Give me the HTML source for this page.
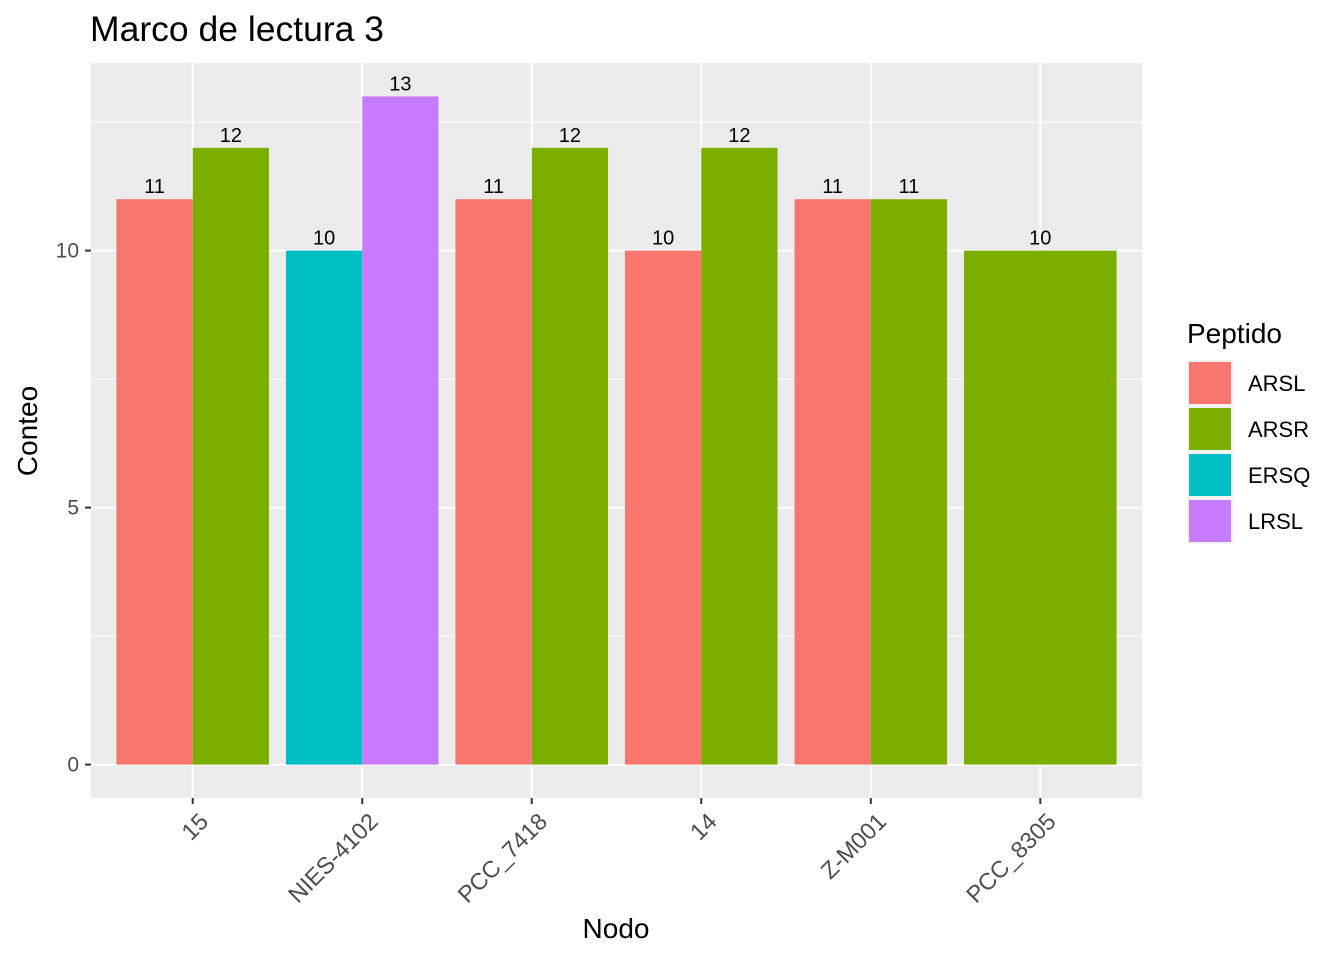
<!DOCTYPE html>
<html><head><meta charset="utf-8"><style>
body{margin:0;background:#fff}
text{font-family:"Liberation Sans",sans-serif}
</style></head><body>
<svg id="chart" width="1344" height="960" xmlns="http://www.w3.org/2000/svg">
<text x="90" y="41" font-size="35.5">Marco de lectura 3</text>
<rect x="91" y="63" width="1051" height="735" fill="#ebebeb"/>
<g id="grid"></g><g id="bars"></g><g id="axes"></g>
<text transform="translate(37,431) rotate(-90)" text-anchor="middle" font-size="28">Conteo</text>
<text x="616" y="938" text-anchor="middle" font-size="28">Nodo</text>
<g id="legend">
<text x="1187" y="343" font-size="28">Peptido</text>
</g>
</svg>
<script>
const nodes = ["15","NIES-4102","PCC_7418","14","Z-M001","PCC_8305"];
const peptides = ["ARSL","ARSR","ERSQ","LRSL"];
const colors = ["#F8766D","#7CAE00","#00BFC4","#C77CFF"];
const barNode = ["15","15","NIES-4102","NIES-4102","PCC_7418","PCC_7418","14","14","Z-M001","Z-M001","PCC_8305"];
const barPep = ["ARSL","ARSR","ERSQ","LRSL","ARSL","ARSR","ARSL","ARSR","ARSL","ARSR","ARSR"];
const barValue = [11,12,10,13,11,12,10,12,11,11,10];
const yTicks = [0,5,10];
const yMinor = [2.5,7.5,12.5];

const NS="http://www.w3.org/2000/svg";
const px0=91,px1=1142,py0=63,py1=798;
const step=(px1-px0)/(nodes.length-1+1.2);
const xPos=n=>px0+step*(0.6+nodes.indexOf(n));
const yMax=Math.max(...barValue);
const ylo=-0.05*yMax, yhi=yMax*1.05;
const y=v=>py1-(v-ylo)/(yhi-ylo)*(py1-py0);
function mk(t,a,p){const e=document.createElementNS(NS,t);for(const k in a)e.setAttribute(k,a[k]);(p||document.getElementById('chart')).appendChild(e);return e;}
const grid=document.getElementById('grid'),bars=document.getElementById('bars'),axes=document.getElementById('axes'),leg=document.getElementById('legend');
yMinor.forEach(v=>{const l=mk('line',{x1:px0,x2:px1,y1:y(v),y2:y(v),stroke:'#fff','stroke-width':1},grid);

});
yTicks.forEach(v=>{const l=mk('line',{x1:px0,x2:px1,y1:y(v),y2:y(v),stroke:'#fff','stroke-width':2},grid);


const t=mk('line',{x1:px0-6,x2:px0,y1:y(v),y2:y(v),stroke:'#333','stroke-width':2},axes);


const tx=mk('text',{x:px0-12,y:y(v)+7,'text-anchor':'end','font-size':21,fill:'#4d4d4d'},axes);tx.textContent=v;

});
nodes.forEach(n=>{const x=xPos(n);const l=mk('line',{x1:x,x2:x,y1:py0,y2:py1,stroke:'#fff','stroke-width':2},grid);


const t=mk('line',{x1:x,x2:x,y1:py1,y2:py1+6,stroke:'#333','stroke-width':2},axes);


const tx=mk('text',{transform:`translate(${x+17},${py1+25}) rotate(-45)`,'text-anchor':'end','font-size':23.5,fill:'#4d4d4d'},axes);tx.textContent=n;

});
const total=step*0.9;
nodes.forEach(n=>{const idx=barNode.map((b,i)=>b===n?i:-1).filter(i=>i>=0);const w=total/idx.length;
idx.forEach((i,k)=>{const x=xPos(n)-total/2+k*w;const v=barValue[i];
const r=mk('rect',{x:x,y:y(v),width:w,height:y(0)-y(v),fill:colors[peptides.indexOf(barPep[i])]},bars);


const t=mk('text',{x:x+w/2,y:y(v)-6,'text-anchor':'middle','font-size':20},bars);t.textContent=v;

});});
peptides.forEach((p,i)=>{const y0=360+i*46;
mk('rect',{x:1187,y:y0,width:46,height:46,fill:'#f2f2f2'},leg);
const r=mk('rect',{x:1189,y:y0+2,width:42,height:42,fill:colors[i]},leg);


const t=mk('text',{x:1248,y:y0+31,'font-size':22},leg);t.textContent=p;

});
</script>
</body></html>
